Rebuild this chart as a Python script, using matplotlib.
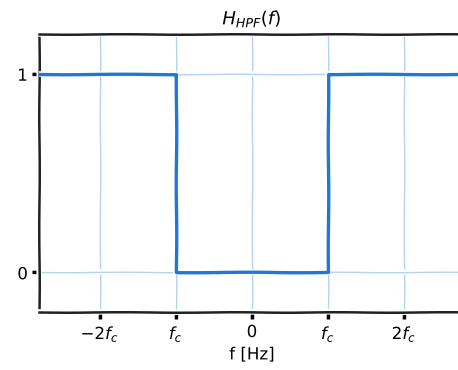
import matplotlib
matplotlib.use("Agg")
import matplotlib.pyplot as plt

# data
freq = [-2.8, -1, -1, 1, 1, 2.8]
gain = [1, 1, 0, 0, 1, 1]
xtick_vals = [-2, -1, 0, 1, 2]
xtick_labels = ['$-2f_c$', '$f_c$', '0', '$f_c$', '$2f_c$']
ytick_vals = [0, 1]
ytick_labels = ['0', '1']

with plt.xkcd(scale=0.25, length=120, randomness=2):
    plt.rcParams['font.family'] = ['DejaVu Sans']
    plt.rcParams['mathtext.fontset'] = 'dejavusans'
    fig = plt.figure(figsize=(4.58, 3.70), dpi=100)
    ax = fig.add_axes([0.085, 0.157, 0.93, 0.751])
    ax.plot(freq, gain, color='#1f78d6', lw=2.4, zorder=3)
    ax.set_xlim(-2.8, 2.8)
    ax.set_ylim(-0.2, 1.2)
    ax.set_xticks(xtick_vals)
    ax.set_xticklabels(xtick_labels, fontsize=12)
    ax.set_yticks(ytick_vals)
    ax.set_yticklabels(ytick_labels, fontsize=12)
    ax.grid(True, color='#b5d2f3', lw=1.0)
    ax.set_axisbelow(True)
    ax.tick_params(direction='out', length=5, width=2.5, colors='black', pad=3)
    for s in ax.spines.values():
        s.set_linewidth(1.8)
        s.set_color('#222222')
    ax.set_title('$H_{HPF}(f)$', fontsize=13, pad=7)
    ax.set_xlabel('f [Hz]', fontsize=12, labelpad=1)
    fig.savefig('out.png', dpi=100)
